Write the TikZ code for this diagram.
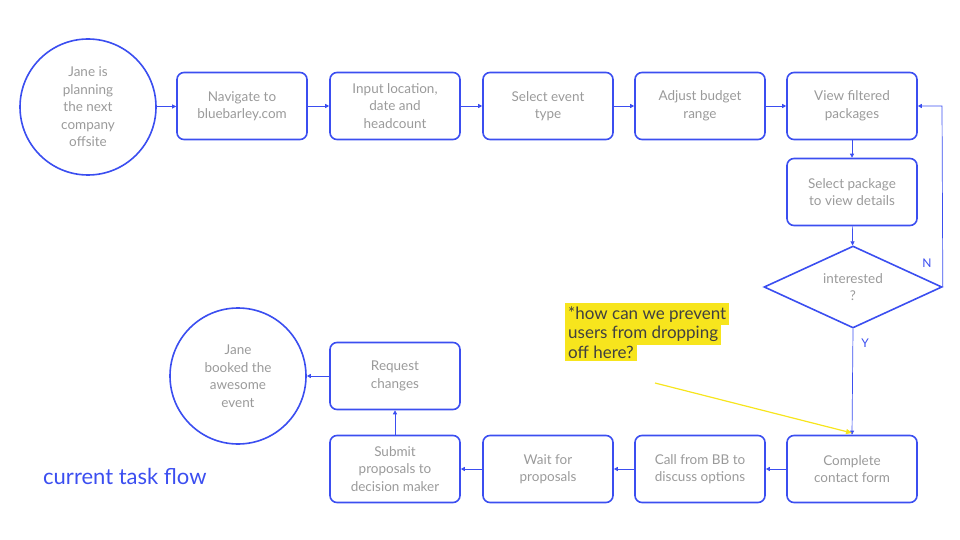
\documentclass[tikz,border=0pt]{standalone}
\usepackage{fontspec}
\setmainfont{Lato}
\usetikzlibrary{arrows.meta,shapes.geometric}
\definecolor{bb}{HTML}{3B4EF0}
\definecolor{tx}{HTML}{9A9A9A}
\definecolor{hl}{HTML}{F7E51D}
\begin{document}
\begin{tikzpicture}[x=1pt,y=-1pt,
  box/.style={draw=bb,line width=1.6pt,rounded corners=7pt,minimum width=130pt,minimum height=67pt,align=center,text=tx,font=\fontsize{13.5}{17.5}\selectfont,inner sep=2pt},
  circ/.style={draw=bb,line width=1.6pt,circle,minimum size=136pt,align=center,text=tx,font=\fontsize{13.5}{17.5}\selectfont,inner sep=0pt},
  arr/.style={draw=bb,line width=0.7pt,-{Triangle[length=4pt,width=4pt]}}]
\useasboundingbox (0,0) rectangle (960,540);
\node[circ] (c1) at (88,107) {Jane is\\planning\\the next\\company\\offsite};
\node[box] (b1) at (242,106) {Navigate to\\bluebarley.com};
\node[box] (b2) at (395,106) {Input location,\\date and\\headcount};
\node[box] (b3) at (548,106) {Select event\\type};
\node[box] (b4) at (700,106) {Adjust budget\\range};
\node[box] (b5) at (852,106) {View filtered\\packages};
\node[box] (b6) at (852,192) {Select package\\to view details};
\node[diamond,draw=bb,line width=1.6pt,minimum width=178pt,minimum height=82pt,inner sep=0pt,aspect=2.17,text=tx,align=center,font=\fontsize{13.5}{17.5}\selectfont] (d) at (853,287) {interested\\?};
\node[box] (b7) at (852,469) {Complete\\contact form};
\node[box] (b8) at (700,469) {Call from BB to\\discuss options};
\node[box] (b9) at (548,469) {Wait for\\proposals};
\node[box] (b10) at (395,469) {Submit\\proposals to\\decision maker};
\node[box] (b11) at (395,376) {Request\\changes};
\node[circ] (c2) at (238,376) {Jane\\booked the\\awesome\\event};
\draw[arr] (c1) -- (b1);
\draw[arr] (b1) -- (b2);
\draw[arr] (b2) -- (b3);
\draw[arr] (b3) -- (b4);
\draw[arr] (b4) -- (b5);
\draw[arr] (b5) -- (b6);
\draw[arr] (b6) -- (d);
\draw[arr] (d.east) -- (942,106) -- (b5.east);
\draw[arr] (d.south) -- (b7.north);
\draw[arr] (b7) -- (b8);
\draw[arr] (b8) -- (b9);
\draw[arr] (b9) -- (b10);
\draw[arr] (b10) -- (b11);
\draw[arr] (b11) -- (c2);
\node[text=bb,font=\fontsize{12}{14}\selectfont] (n) at (927,263) {N};
\node[text=bb,font=\fontsize{12}{14}\selectfont] (y) at (865,343) {Y};
\node[anchor=north west,align=left,text=black!75,font=\fontsize{17}{21}\selectfont,inner sep=0pt] (note) at (565,303)
 {\colorbox{hl}{*how can we prevent}\\[-3pt]\colorbox{hl}{users from dropping}\\[-3pt]\colorbox{hl}{off here?}};
\coordinate (ns) at (655,383);
\draw[draw=hl,line width=1.2pt,-{Triangle[length=6pt,width=5pt]}] (ns) -- (852,433);
\node[anchor=west,text=bb,font=\fontsize{22}{26}\selectfont,inner sep=0pt] (t) at (43,476) {current task flow};
\end{tikzpicture}
\end{document}
